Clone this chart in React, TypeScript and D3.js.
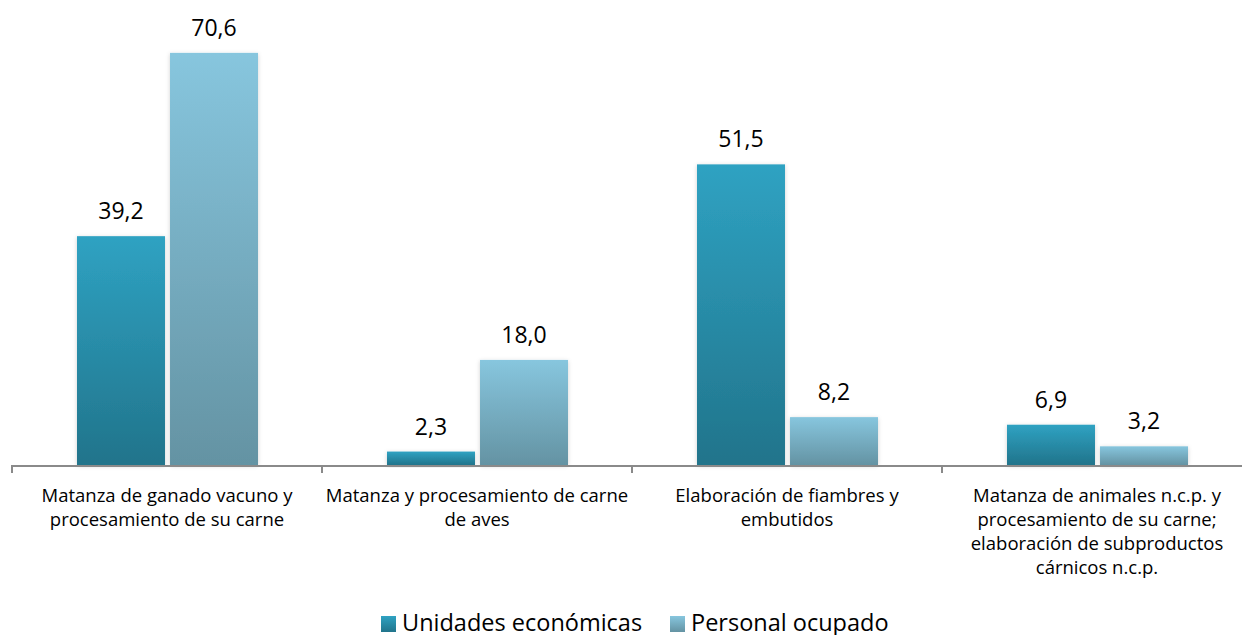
import React, { useEffect, useRef } from "react";
import * as d3 from "d3";

const categories = [
  ["Matanza de ganado vacuno y", "procesamiento de su carne"],
  ["Matanza y procesamiento de carne", "de aves"],
  ["Elaboración de fiambres y", "embutidos"],
  ["Matanza de animales n.c.p. y", "procesamiento de su carne;", "elaboración de subproductos", "cárnicos n.c.p."],
];
const seriesNames = ["Unidades económicas", "Personal ocupado"];
const unidades = [39.2, 2.3, 51.5, 6.9];
const personal = [70.6, 18.0, 8.2, 3.2];

const W = 1242;
const H = 635;
const FONT = "'Open Sans', 'Noto Sans', sans-serif";

const App = () => {
  const ref = useRef<SVGSVGElement>(null);

  useEffect(() => {
    const svg = d3.select(ref.current);
    svg.selectAll("*").remove();

    const defs = svg.append("defs");
    const grads = [
      ["g0", "#2fa2c2", "#21748b"],
      ["g1", "#87c6de", "#6493a3"],
    ];
    grads.forEach(([id, top, bot]) => {
      const g = defs
        .append("linearGradient")
        .attr("id", id)
        .attr("x1", 0)
        .attr("y1", 0)
        .attr("x2", 0)
        .attr("y2", 1);
      g.append("stop").attr("offset", "0%").attr("stop-color", top);
      g.append("stop").attr("offset", "100%").attr("stop-color", bot);
    });
    const f = defs
      .append("filter")
      .attr("id", "sh")
      .attr("x", "-20%")
      .attr("y", "-20%")
      .attr("width", "140%")
      .attr("height", "140%");
    f.append("feDropShadow")
      .attr("dx", 0)
      .attr("dy", 1)
      .attr("stdDeviation", 2)
      .attr("flood-color", "#000")
      .attr("flood-opacity", 0.18);

    const idx = categories.map((_, i) => i);
    const x = d3.scaleBand<number>().domain(idx).range([12, 1252]);
    const x1 = d3
      .scaleBand<number>()
      .domain([0, 1])
      .range([65, 246])
      .paddingInner(0.054);
    const y = d3.scaleLinear().domain([0, 80]).range([465, -2]);

    const series = [unidades, personal];

    const bars = svg.append("g");
    series.forEach((vals, s) => {
      bars
        .append("g")
        .selectAll("rect")
        .data(vals)
        .join("rect")
        .attr("x", (_, i) => x(i)! + x1(s)!)
        .attr("y", (d) => y(d))
        .attr("width", x1.bandwidth())
        .attr("height", (d) => y(0) - y(d))
        .attr("fill", `url(#g${s})`)
        .attr("filter", "url(#sh)");

      bars
        .append("g")
        .selectAll("text")
        .data(vals)
        .join("text")
        .attr("x", (_, i) => x(i)! + x1(s)! + x1.bandwidth() / 2)
        .attr("y", (d) => y(d) - 17)
        .attr("text-anchor", "middle")
        .attr("font-family", FONT)
        .attr("font-size", 23)
        .attr("fill", "#000")
        .text((d) => d.toFixed(1).replace(".", ","));
    });

    // axis
    const ax = svg.append("g").attr("stroke", "#8a8a8a").attr("stroke-width", 2);
    ax.append("line").attr("x1", 11).attr("x2", W).attr("y1", 466).attr("y2", 466);
    ax.selectAll("line.tick")
      .data(idx)
      .join("line")
      .attr("class", "tick")
      .attr("x1", (i) => x(i)!)
      .attr("x2", (i) => x(i)!)
      .attr("y1", 466)
      .attr("y2", 473);

    // category labels
    svg
      .append("g")
      .selectAll("text")
      .data(categories)
      .join("text")
      .attr("text-anchor", "middle")
      .attr("font-family", FONT)
      .attr("font-size", 18.5)
      .attr("fill", "#000")
      .each(function (lines, i) {
        d3.select(this)
          .selectAll("tspan")
          .data(lines)
          .join("tspan")
          .attr("x", x(i)! + x.bandwidth() / 2)
          .attr("y", (_, k) => 502 + k * 24)
          .text((l) => l);
      });

    // legend
    const legX = [381, 670];
    const leg = svg.append("g");
    seriesNames.forEach((name, s) => {
      leg
        .append("rect")
        .attr("x", legX[s])
        .attr("y", 616)
        .attr("width", 15)
        .attr("height", 16)
        .attr("fill", `url(#g${s})`);
      leg
        .append("text")
        .attr("x", legX[s] + 21)
        .attr("y", 631)
        .attr("font-family", FONT)
        .attr("font-size", 23.5)
        .attr("fill", "#000")
        .text(name);
    });
  }, []);

  return (
    <svg
      ref={ref}
      width={W}
      height={H}
      style={{ display: "block", position: "absolute", left: 0, top: 0, background: "#fff" }}
    />
  );
};

export default App;
